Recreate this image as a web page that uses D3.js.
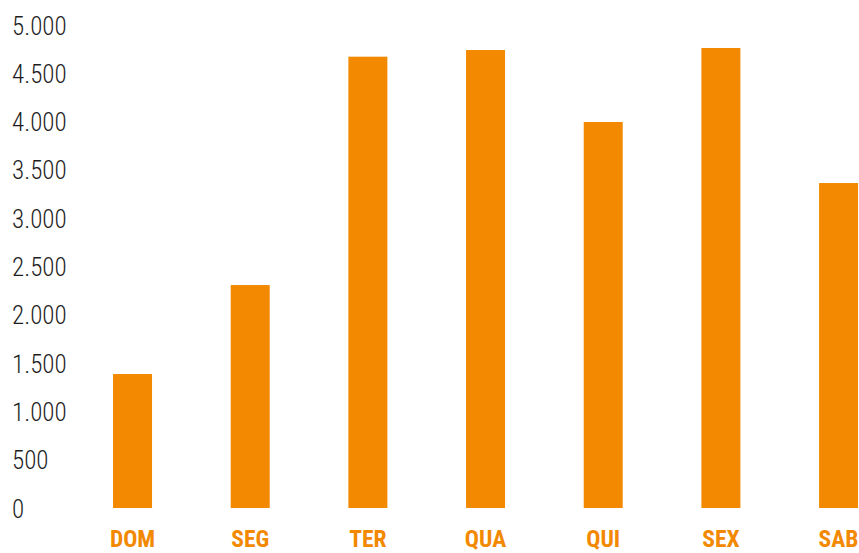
<!DOCTYPE html>
<html>
<head>
<meta charset="utf-8">
<script src="https://cdn.jsdelivr.net/npm/d3@7"></script>
<style>
  body { margin: 0; background: #fff; }
  svg { display: block; }
</style>
</head>
<body>
<div id="chart"></div>
<script>
const days = ["DOM", "SEG", "TER", "QUA", "QUI", "SEX", "SAB"];
const values = [1387, 2308, 4672, 4741, 3996, 4762, 3364];
const yTicks = [0, 500, 1000, 1500, 2000, 2500, 3000, 3500, 4000, 4500, 5000];

const width = 859, height = 553;
const orange = "#f28900";
const narrow = "'Roboto Condensed', 'Liberation Sans Narrow', 'DejaVu Sans Condensed', sans-serif";

const ptBR = d3.formatLocale({ decimal: ",", thousands: ".", grouping: [3], currency: ["R$", ""] });
const fmt = ptBR.format(",");

const svg = d3.select("#chart")
  .append("svg")
  .attr("width", width)
  .attr("height", height);

const x = d3.scaleBand()
  .domain(days)
  .range([73.7, 897.4])
  .paddingInner(0.6686)
  .paddingOuter(0.3343);

const y = d3.scaleLinear()
  .domain([0, 5000])
  .range([508, 25]);

// bars
svg.selectAll(".bar")
  .data(days.map((d, i) => ({ day: d, value: values[i] })))
  .enter()
  .append("rect")
  .attr("class", "bar")
  .attr("x", d => x(d.day))
  .attr("y", d => y(d.value))
  .attr("width", x.bandwidth())
  .attr("height", d => y(0) - y(d.value))
  .attr("fill", orange);

// y axis, labels left aligned
const yAxis = svg.append("g")
  .attr("transform", "translate(12,0)")
  .call(d3.axisLeft(y).tickValues(yTicks).tickSize(0).tickPadding(0).tickFormat(fmt));
yAxis.select(".domain").remove();
yAxis.selectAll("text")
  .attr("text-anchor", "start")
  .attr("x", 0)
  .attr("dy", "0.36em")
  .attr("fill", "#1e1e1e")
  .style("font-family", narrow)
  .style("font-weight", 300)
  .style("font-size", "25px");

// x axis labels
const xAxis = svg.append("g")
  .attr("transform", "translate(0,547)")
  .call(d3.axisBottom(x).tickSize(0).tickPadding(0));
xAxis.select(".domain").remove();
xAxis.selectAll("text")
  .attr("y", 0)
  .attr("dy", 0)
  .attr("fill", orange)
  .style("font-family", narrow)
  .style("font-weight", "bold")
  .style("font-size", "23.5px");
</script>
</body>
</html>
